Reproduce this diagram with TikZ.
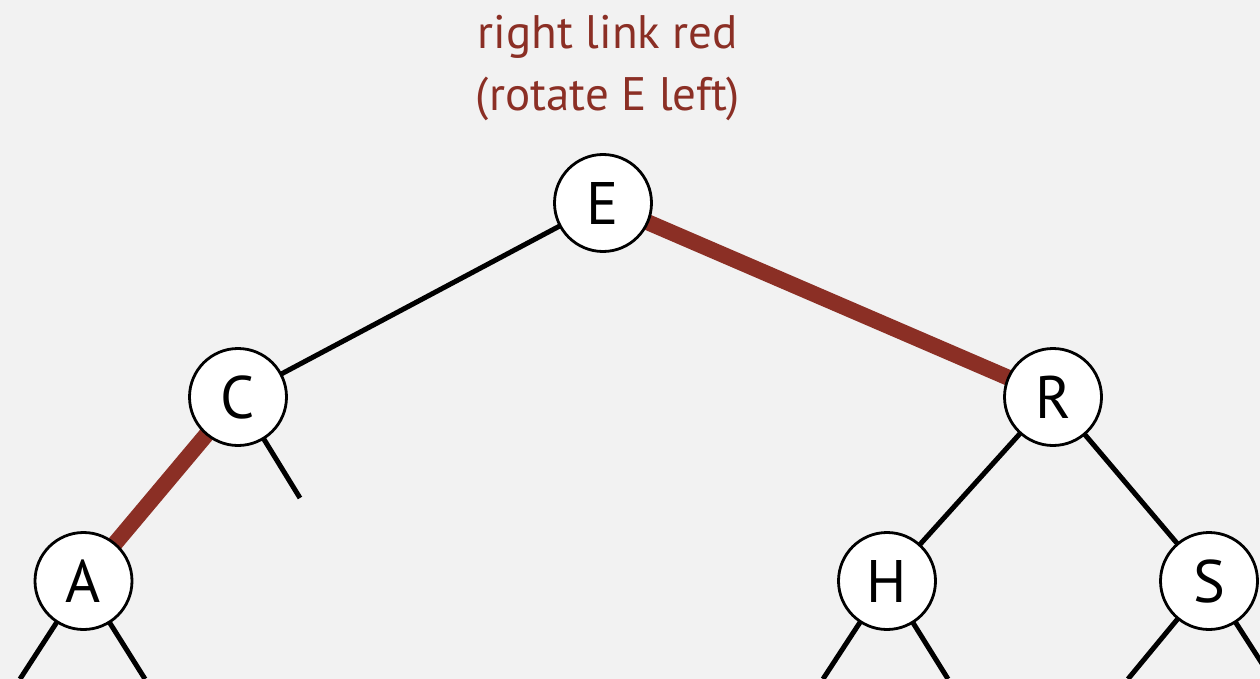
\documentclass[tikz,border=0pt]{standalone}
\usepackage{fontspec}
\setmainfont{PT Sans}
\usetikzlibrary{backgrounds}
\definecolor{linkred}{HTML}{8B2F25}
\definecolor{bg}{HTML}{F2F2F2}
\tikzset{
  keynode/.style={circle,draw=black,fill=white,line width=2.8pt,minimum size=97pt,inner sep=0pt,font=\fontsize{60}{60}\selectfont},
  blacklink/.style={draw=black,line width=5pt},
  redlink/.style={draw=linkred,line width=16pt},
  title/.style={text=linkred,font=\fontsize{47}{62}\selectfont,align=center}
}
\begin{document}
\begin{tikzpicture}[x=1pt,y=-1pt]
\useasboundingbox (0,0) rectangle (1260,679);
\clip (0,0) rectangle (1260,679);
\node[keynode] (E) at (603,203) {E};
\node[keynode] (C) at (238,397) {C};
\node[keynode] (R) at (1053,397) {R};
\node[keynode] (A) at (83.5,581) {A};
\node[keynode] (H) at (887,581) {H};
\node[keynode] (S) at (1209,581) {S};
\node[title] (T) at (608,68) {right link red\\(rotate E left)};
\coordinate (c2) at (300,498);
\coordinate (a1) at (20,679);
\coordinate (a2) at (145,679);
\coordinate (h1) at (823,679);
\coordinate (h2) at (948,679);
\coordinate (s1) at (1128,679);
\coordinate (s2) at (1272,679);
\begin{scope}[on background layer]
\fill[bg] (0,0) rectangle (1260,679);
\draw[blacklink] (E.center) -- (C.center);
\draw[redlink] (E.center) -- (R.center);
\draw[redlink] (C.center) -- (A.center);
\draw[blacklink] (C.center) -- (c2);
\draw[blacklink] (R.center) -- (H.center);
\draw[blacklink] (R.center) -- (S.center);
\draw[blacklink] (A.center) -- (a1);
\draw[blacklink] (A.center) -- (a2);
\draw[blacklink] (H.center) -- (h1);
\draw[blacklink] (H.center) -- (h2);
\draw[blacklink] (S.center) -- (s1);
\draw[blacklink] (S.center) -- (s2);
\end{scope}
\end{tikzpicture}
\end{document}
